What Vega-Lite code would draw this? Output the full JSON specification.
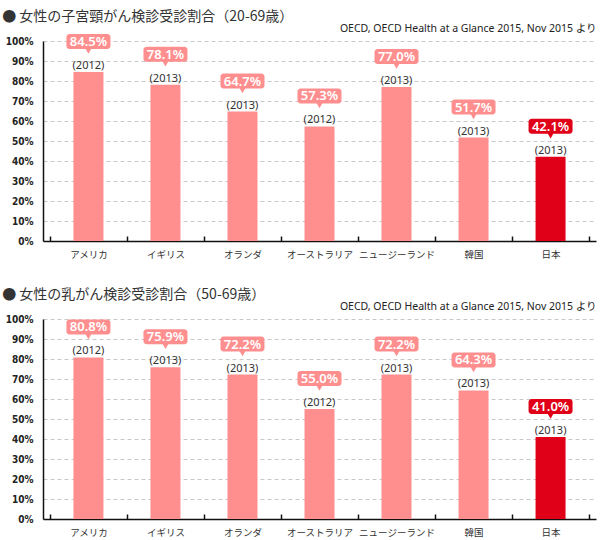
{
  "$schema": "https://vega.github.io/schema/vega-lite/v6.json",
  "background": "white",
  "padding": {"left": 2, "top": 10, "right": 9, "bottom": 5},
  "spacing": 29,
  "config": {
    "view": {"stroke": null},
    "font": "Noto Sans CJK JP"
  },
  "datasets": {
    "cervical": [
      {"country": "アメリカ", "value": 84.5, "year": 2012},
      {"country": "イギリス", "value": 78.1, "year": 2013},
      {"country": "オランダ", "value": 64.7, "year": 2013},
      {"country": "オーストラリア", "value": 57.3, "year": 2012},
      {"country": "ニュージーランド", "value": 77.0, "year": 2013},
      {"country": "韓国", "value": 51.7, "year": 2013},
      {"country": "日本", "value": 42.1, "year": 2013}
    ],
    "breast": [
      {"country": "アメリカ", "value": 80.8, "year": 2012},
      {"country": "イギリス", "value": 75.9, "year": 2013},
      {"country": "オランダ", "value": 72.2, "year": 2013},
      {"country": "オーストラリア", "value": 55.0, "year": 2012},
      {"country": "ニュージーランド", "value": 72.2, "year": 2013},
      {"country": "韓国", "value": 64.3, "year": 2013},
      {"country": "日本", "value": 41.0, "year": 2013}
    ]
  },
  "vconcat": [
    {
      "data": {"name": "cervical"},
      "width": 553,
      "height": 200,
      "title": {"text": "● 女性の子宮頸がん検診受診割合（20-69歳）", "anchor": "start", "frame": "bounds", "fontSize": 14, "fontWeight": "normal", "color": "#333333", "font": "Noto Sans CJK JP", "offset": -1, "dx": -3},
      "transform": [
        {"calculate": "format(datum.value, '.1f') + '%'", "as": "label"},
        {"calculate": "'(' + datum.year + ')'", "as": "yearLabel"}
      ],
      "encoding": {
        "x": {"field": "country", "type": "nominal", "sort": null, "scale": {"paddingInner": 0, "paddingOuter": 0.09}, "axis": null},
        "y": {"field": "value", "type": "quantitative", "scale": {"domain": [0, 100]},
          "axis": {"title": null, "values": [0,10,20,30,40,50,60,70,80,90,100], "labelExpr": "datum.value + '%'", "ticks": false, "domainColor": "#111111", "domainWidth": 1.5, "labelFont": "Liberation Sans Narrow, DejaVu Sans Condensed, sans-serif", "labelFontWeight": "bold", "labelFontSize": 10, "labelColor": "#222222", "labelPadding": 10, "grid": true, "gridDash": [4, 3], "gridColor": "#c8c8c8", "gridWidth": 1}}
      },
      "layer": [
        {
          "mark": {"type": "bar", "width": 30},
          "encoding": {
            "x": {"field": "country", "type": "nominal", "sort": null,
              "axis": {"title": null, "labelAngle": 0, "tickBand": "extent", "tickSize": -5, "tickColor": "#111111", "tickWidth": 1.5, "domainColor": "#111111", "domainWidth": 1.5, "labelFontSize": 9.5, "labelColor": "#333333", "labelPadding": 13, "grid": false, "labelFont": "Noto Sans CJK JP"}},
            "color": {"condition": {"test": "datum.country === '日本'", "value": "#E00018"}, "value": "#FF8F8F"}
          }
        },
        {
          "mark": {"type": "bar", "width": 44, "cornerRadius": 3, "yOffset": -38, "y2Offset": -23},
          "encoding": {
            "x": {"field": "country", "type": "nominal", "sort": null,
              "axis": {"orient": "top", "title": "OECD, OECD Health at a Glance 2015, Nov 2015 より", "labels": false, "ticks": false, "domain": false, "grid": false, "titleAnchor": "end", "titleAlign": "right", "titleFont": "Noto Sans, Noto Sans CJK JP", "titleFontSize": 10.5, "titleFontWeight": "normal", "titleColor": "#222222", "titlePadding": 8}},
            "y2": {"field": "value"},
            "color": {"condition": {"test": "datum.country === '日本'", "value": "#E00018"}, "value": "#FF8F8F"}
          }
        },
        {
          "mark": {"type": "point", "shape": "triangle-down", "filled": true, "size": 40, "yOffset": -21, "opacity": 1},
          "encoding": {
            "color": {"condition": {"test": "datum.country === '日本'", "value": "#E00018"}, "value": "#FF8F8F"}
          }
        },
        {
          "mark": {"type": "text", "dy": -30, "baseline": "middle", "fontSize": 13, "fontWeight": 600, "color": "white", "font": "Noto Sans"},
          "encoding": {"text": {"field": "label"}}
        },
        {
          "mark": {"type": "text", "baseline": "alphabetic", "dy": -3, "fontSize": 11, "color": "#333333", "font": "Noto Sans"},
          "encoding": {"text": {"field": "yearLabel"}}
        }
      ],
      "resolve": {"axis": {"x": "independent"}}
    },
    {
      "data": {"name": "breast"},
      "width": 553,
      "height": 200,
      "title": {"text": "● 女性の乳がん検診受診割合（50-69歳）", "anchor": "start", "frame": "bounds", "fontSize": 14, "fontWeight": "normal", "color": "#333333", "font": "Noto Sans CJK JP", "offset": -1, "dx": -3},
      "transform": [
        {"calculate": "format(datum.value, '.1f') + '%'", "as": "label"},
        {"calculate": "'(' + datum.year + ')'", "as": "yearLabel"}
      ],
      "encoding": {
        "x": {"field": "country", "type": "nominal", "sort": null, "scale": {"paddingInner": 0, "paddingOuter": 0.09}, "axis": null},
        "y": {"field": "value", "type": "quantitative", "scale": {"domain": [0, 100]},
          "axis": {"title": null, "values": [0,10,20,30,40,50,60,70,80,90,100], "labelExpr": "datum.value + '%'", "ticks": false, "domainColor": "#111111", "domainWidth": 1.5, "labelFont": "Liberation Sans Narrow, DejaVu Sans Condensed, sans-serif", "labelFontWeight": "bold", "labelFontSize": 10, "labelColor": "#222222", "labelPadding": 10, "grid": true, "gridDash": [4, 3], "gridColor": "#c8c8c8", "gridWidth": 1}}
      },
      "layer": [
        {
          "mark": {"type": "bar", "width": 30},
          "encoding": {
            "x": {"field": "country", "type": "nominal", "sort": null,
              "axis": {"title": null, "labelAngle": 0, "tickBand": "extent", "tickSize": -5, "tickColor": "#111111", "tickWidth": 1.5, "domainColor": "#111111", "domainWidth": 1.5, "labelFontSize": 9.5, "labelColor": "#333333", "labelPadding": 13, "grid": false, "labelFont": "Noto Sans CJK JP"}},
            "color": {"condition": {"test": "datum.country === '日本'", "value": "#E00018"}, "value": "#FF8F8F"}
          }
        },
        {
          "mark": {"type": "bar", "width": 44, "cornerRadius": 3, "yOffset": -38, "y2Offset": -23},
          "encoding": {
            "x": {"field": "country", "type": "nominal", "sort": null,
              "axis": {"orient": "top", "title": "OECD, OECD Health at a Glance 2015, Nov 2015 より", "labels": false, "ticks": false, "domain": false, "grid": false, "titleAnchor": "end", "titleAlign": "right", "titleFont": "Noto Sans, Noto Sans CJK JP", "titleFontSize": 10.5, "titleFontWeight": "normal", "titleColor": "#222222", "titlePadding": 8}},
            "y2": {"field": "value"},
            "color": {"condition": {"test": "datum.country === '日本'", "value": "#E00018"}, "value": "#FF8F8F"}
          }
        },
        {
          "mark": {"type": "point", "shape": "triangle-down", "filled": true, "size": 40, "yOffset": -21, "opacity": 1},
          "encoding": {
            "color": {"condition": {"test": "datum.country === '日本'", "value": "#E00018"}, "value": "#FF8F8F"}
          }
        },
        {
          "mark": {"type": "text", "dy": -30, "baseline": "middle", "fontSize": 13, "fontWeight": 600, "color": "white", "font": "Noto Sans"},
          "encoding": {"text": {"field": "label"}}
        },
        {
          "mark": {"type": "text", "baseline": "alphabetic", "dy": -3, "fontSize": 11, "color": "#333333", "font": "Noto Sans"},
          "encoding": {"text": {"field": "yearLabel"}}
        }
      ],
      "resolve": {"axis": {"x": "independent"}}
    }
  ]
}
